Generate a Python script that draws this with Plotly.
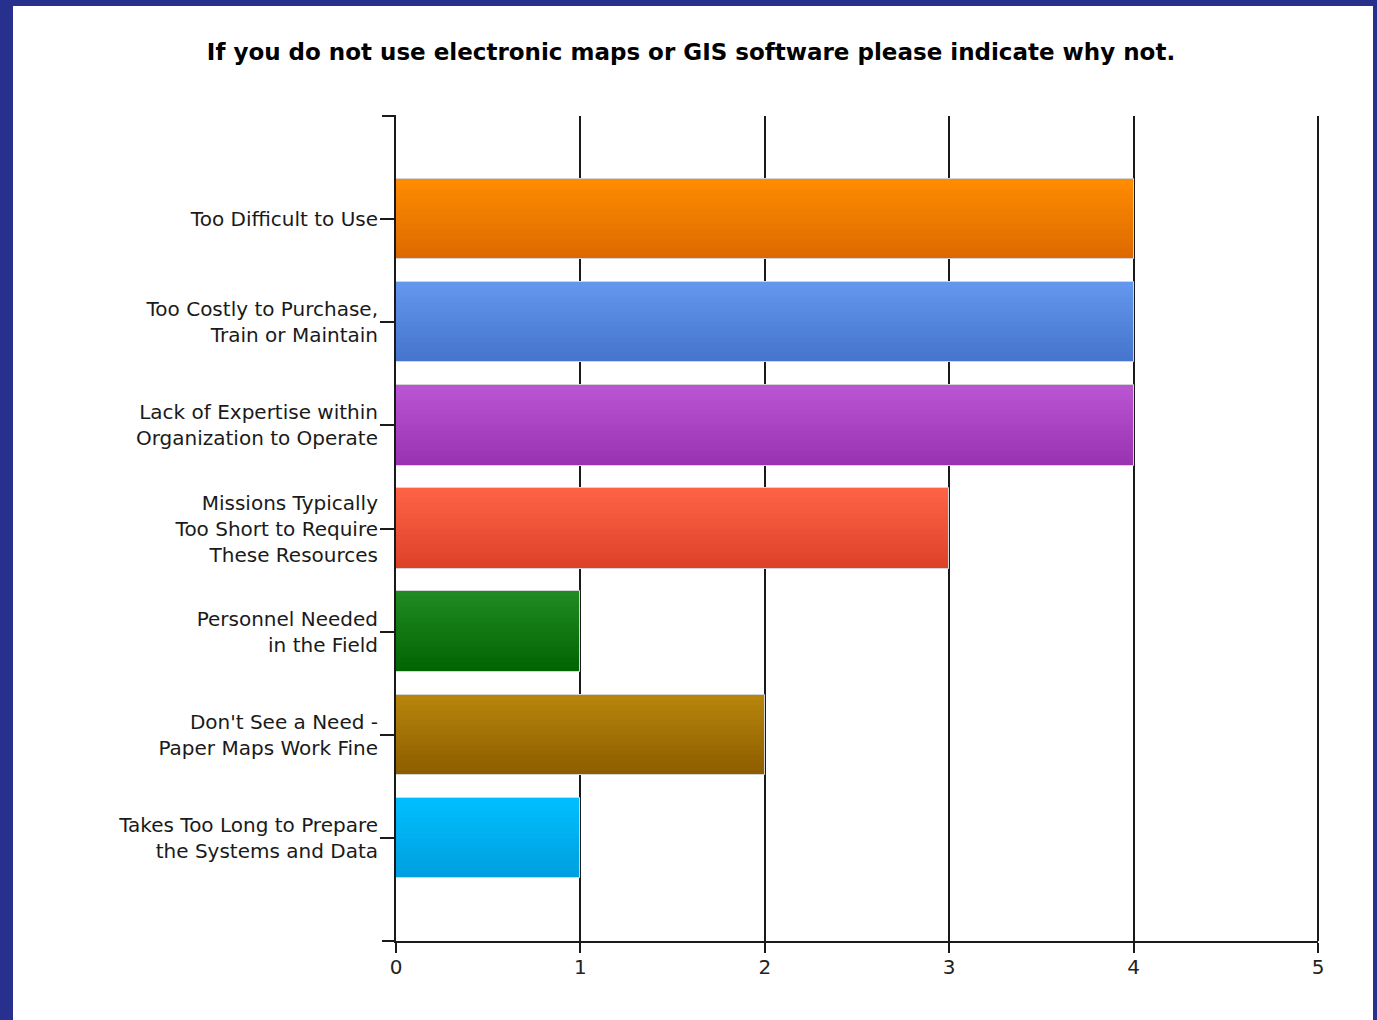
import plotly.graph_objects as go

# ---- data ----
categories = [
    "Too Difficult to Use",
    "Too Costly to Purchase,<br>Train or Maintain",
    "Lack of Expertise within<br>Organization to Operate",
    "Missions Typically<br>Too Short to Require<br>These Resources",
    "Personnel Needed<br>in the Field",
    "Don't See a Need -<br>Paper Maps Work Fine",
    "Takes Too Long to Prepare<br>the Systems and Data",
]
counts = [4, 4, 4, 3, 1, 2, 1]
top_colors = ["#ff8c00", "#6497ee", "#ba55d3", "#ff6347", "#228b22", "#b8860b", "#00bfff"]
bottom_colors = ["#dc6800", "#4474cc", "#9932b0", "#dc4128", "#006400", "#8c5c00", "#009edf"]
x_ticks = [0, 1, 2, 3, 4, 5]
title_text = "If you do not use electronic maps or GIS software please indicate why not."

# ---- layout geometry (pixels) ----
W, H = 1377, 1020
L, R, T, B = 396, 1318, 116, 941
pw, ph = R - L, B - T


def hex2rgb(h):
    h = h.lstrip("#")
    return tuple(int(h[i:i + 2], 16) for i in (0, 2, 4))


def mix(c1, c2, t):
    a, b = hex2rgb(c1), hex2rgb(c2)
    return "rgb(%d,%d,%d)" % tuple(round(a[k] + (b[k] - a[k]) * t) for k in range(3))


fig = go.Figure()

bar_w = 0.78
n_bands = 16
band = bar_w / n_bands
for i in range(n_bands):
    t = (i + 0.5) / n_bands
    fig.add_trace(go.Bar(
        y=categories, x=counts, orientation="h",
        width=[band * (1.15 if i < n_bands - 1 else 1.0)] * len(counts),
        offset=[-bar_w / 2 + i * band] * len(counts),
        marker=dict(color=[mix(tc, bc, t) for tc, bc in zip(top_colors, bottom_colors)],
                    line=dict(width=0)),
        hoverinfo="skip", showlegend=False,
    ))

# outline
fig.add_trace(go.Bar(
    y=categories, x=counts, orientation="h",
    width=[bar_w] * len(counts), offset=[-bar_w / 2] * len(counts),
    marker=dict(color="rgba(0,0,0,0)", line=dict(color="#d4d4d4", width=1)),
    showlegend=False,
))

shapes = [
    # white panel
    dict(type="rect", xref="paper", yref="paper", layer="below",
         x0=(13 - L) / pw, x1=(1373 - L) / pw, y0=(B - 1040) / ph, y1=(B - 6) / ph,
         fillcolor="white", line=dict(width=0)),
    # boundary ticks at top and bottom of the category axis
    dict(type="line", xref="paper", yref="paper", x0=-14 / pw, x1=0, y0=1, y1=1,
         line=dict(color="#1a1a1a", width=2)),
    dict(type="line", xref="paper", yref="paper", x0=-14 / pw, x1=0, y0=0, y1=0,
         line=dict(color="#1a1a1a", width=2)),
    # gridline at the right end of the value axis
    dict(type="line", xref="paper", yref="paper", x0=1, x1=1, y0=0, y1=1,
         layer="below", line=dict(color="#1a1a1a", width=2)),
]

fig.update_layout(
    width=W, height=H,
    margin=dict(l=L, r=W - R, t=T, b=H - B, pad=0),
    paper_bgcolor="#27308d",
    plot_bgcolor="white",
    barmode="overlay",
    bargap=0,
    shapes=shapes,
    font=dict(family="DejaVu Sans, Verdana, sans-serif", color="#1a1a1a", size=20),
    title=dict(text="<b>%s</b>" % title_text, x=691 / W, xanchor="center",
               y=1 - 52 / H, yanchor="middle", yref="container",
               font=dict(family="DejaVu Sans, Verdana, sans-serif", size=23, color="#000000")),
    xaxis=dict(range=[0, 5], tickvals=x_ticks, ticktext=[str(v) for v in x_ticks],
               showgrid=True, gridcolor="#1a1a1a", gridwidth=2,
               showline=True, linecolor="#1a1a1a", linewidth=2,
               ticks="outside", ticklen=10, tickcolor="#1a1a1a", tickwidth=2,
               ticklabelstandoff=-3,
               zeroline=False, tickfont=dict(size=20, color="#222222"), fixedrange=True),
    yaxis=dict(range=[len(categories), -1], type="category",
               showgrid=False, showline=True, linecolor="#1a1a1a", linewidth=2,
               ticks="outside", ticklen=14, tickcolor="#1a1a1a", tickwidth=2,
               ticklabelstandoff=-2,
               zeroline=False, tickfont=dict(size=20, color="#1a1a1a"), fixedrange=True),
)

fig.write_html("out.html", config={"displayModeBar": False},
               post_script="document.body.style.margin='0';")
